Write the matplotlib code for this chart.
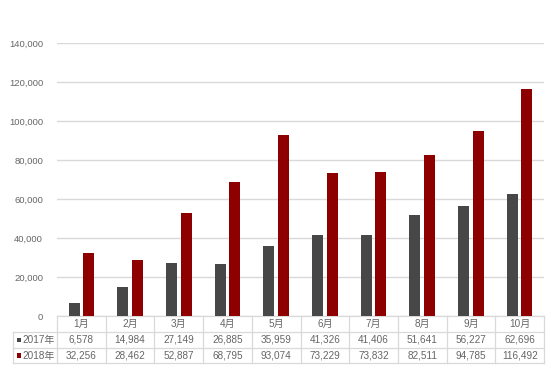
import matplotlib
matplotlib.use("Agg")
import matplotlib.pyplot as plt
from matplotlib.patches import Rectangle
from matplotlib.ticker import FuncFormatter, MultipleLocator

plt.rcParams['font.family'] = ['Liberation Sans', 'Noto Sans CJK SC', 'DejaVu Sans']

months = ["1月", "2月", "3月", "4月", "5月", "6月", "7月", "8月", "9月", "10月"]
series_names = ["2017年", "2018年"]
values_2017 = [6578, 14984, 27149, 26885, 35959, 41326, 41406, 51641, 56227, 62696]
values_2018 = [32256, 28462, 52887, 68795, 93074, 73229, 73832, 82511, 94785, 116492]
colors = ["#474747", "#8e0000"]

fig = plt.figure(figsize=(5.53, 3.69), dpi=100)
AX_L, AX_R, AX_T, AX_B = 57, 544, 43, 316
ax = fig.add_axes([AX_L/553, 1-AX_B/369, (AX_R-AX_L)/553, (AX_B-AX_T)/369])
W = AX_R - AX_L
H = AX_B - AX_T

x = list(range(len(months)))
w = 0.226
off = 0.149
ax.bar([i - off for i in x], values_2017, width=w, color=colors[0], zorder=3)
ax.bar([i + off for i in x], values_2018, width=w, color=colors[1], zorder=3)

n = len(months)
ax.set_xlim(-0.5, n - 0.5)
ax.set_ylim(0, 140000)
ax.yaxis.set_major_locator(MultipleLocator(20000))
ax.yaxis.set_major_formatter(FuncFormatter(lambda v, p: f"{int(v):,}"))
ax.grid(axis='y', color='#d9d9d9', linewidth=1, zorder=0)
ax.tick_params(axis='y', length=0, pad=10, labelsize=6.8, labelcolor='#666666')
ax.set_xticks([])
for s in ax.spines.values():
    s.set_visible(False)

# manual data table below the plot (axes coordinates)
tc = '#666666'
lc = '#d9d9d9'
rows_px = [0, 16, 32, 47]
ys = [-r / H for r in rows_px]
xl = -44 / W
kw = dict(transform=ax.transAxes, clip_on=False, color=lc, linewidth=0.9, zorder=1)
ax.plot([0, 1], [ys[0], ys[0]], **kw)
for y in ys[1:]:
    ax.plot([xl, 1], [y, y], **kw)
for j in range(n + 1):
    xx = j / n
    ax.plot([xx, xx], [ys[0], ys[3]], **kw)
ax.plot([xl, xl], [ys[1], ys[3]], **kw)

fs = 7.2
for j, m in enumerate(months):
    cx = (j + 0.5) / n
    ax.text(cx, (ys[0] + ys[1]) / 2, m, transform=ax.transAxes, ha='center',
            va='center', fontsize=fs, color=tc)
    for r, vals in enumerate([values_2017, values_2018]):
        ax.text(cx, (ys[r + 1] + ys[r + 2]) / 2, f"{vals[j]:,}", transform=ax.transAxes,
                ha='center', va='center', fontsize=fs, color=tc)
for r, name in enumerate(series_names):
    cy = (ys[r + 1] + ys[r + 2]) / 2
    sq = 4.5
    ax.add_patch(Rectangle((-40.5 / W, cy - (sq / 2) / H), sq / W, sq / H,
                           transform=ax.transAxes, clip_on=False,
                           facecolor=colors[r], edgecolor='none'))
    ax.text(-35 / W, cy, name, transform=ax.transAxes, color=tc,
            fontsize=fs, va='center', ha='left')

fig.savefig("out.png", dpi=100)
